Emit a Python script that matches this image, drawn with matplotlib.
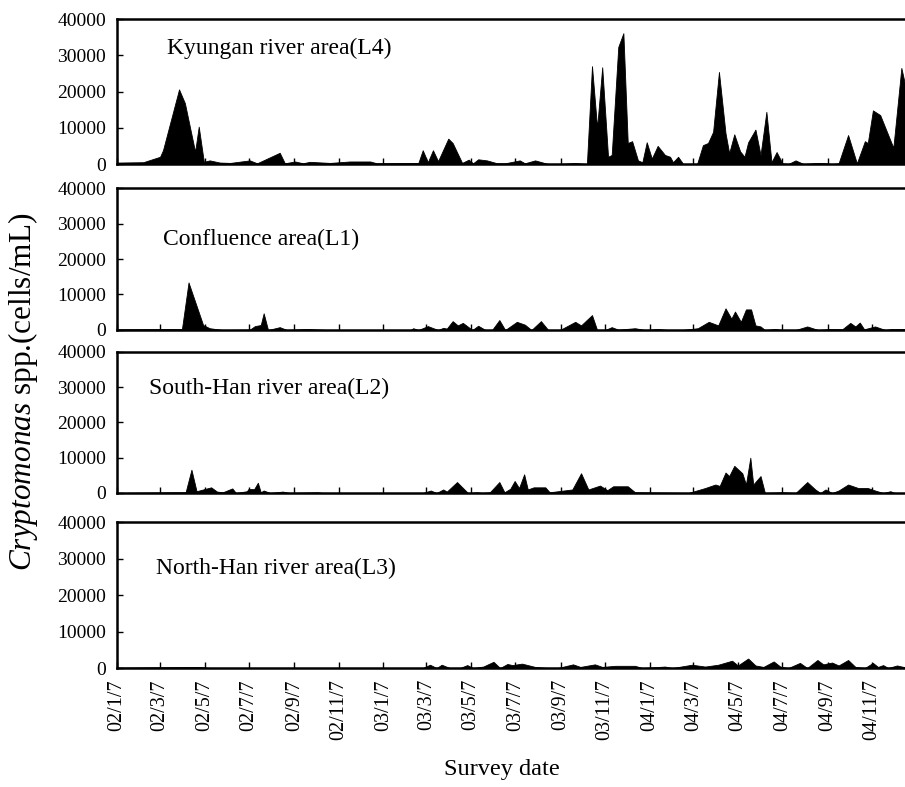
import pandas as pd
import matplotlib
matplotlib.use("Agg")
import matplotlib.pyplot as plt

# Kyungan river area (L4)
l4_dates = ["2002-01-07", "2002-02-12", "2002-03-07", "2002-03-11", "2002-04-02", "2002-04-10",
            "2002-04-24", "2002-04-29", "2002-05-06", "2002-05-14", "2002-05-28", "2002-06-11",
            "2002-07-08", "2002-07-18", "2002-08-18", "2002-08-25", "2002-09-08", "2002-09-19",
            "2002-09-28", "2002-10-26", "2002-11-22", "2002-12-20", "2002-12-29", "2003-02-13",
            "2003-02-24", "2003-03-02", "2003-03-09", "2003-03-16", "2003-03-23", "2003-04-06",
            "2003-04-12", "2003-04-25", "2003-05-04", "2003-05-10", "2003-05-17", "2003-05-29",
            "2003-06-12", "2003-06-23", "2003-07-13", "2003-07-20", "2003-08-03", "2003-08-21",
            "2003-09-06", "2003-09-27", "2003-10-11", "2003-10-13", "2003-10-20", "2003-10-27",
            "2003-11-03", "2003-11-11", "2003-11-16", "2003-11-25", "2003-12-02", "2003-12-08",
            "2003-12-14", "2003-12-22", "2003-12-28", "2004-01-03", "2004-01-10", "2004-01-18",
            "2004-01-28", "2004-02-04", "2004-02-08", "2004-02-15", "2004-02-22", "2004-03-12",
            "2004-03-20", "2004-03-27", "2004-04-03", "2004-04-11", "2004-04-20", "2004-04-25",
            "2004-05-02", "2004-05-10", "2004-05-16", "2004-05-21", "2004-05-31", "2004-06-07",
            "2004-06-15", "2004-06-22", "2004-06-29", "2004-07-07", "2004-07-15", "2004-07-25",
            "2004-08-05", "2004-08-24", "2004-09-04", "2004-09-13", "2004-09-22", "2004-10-05",
            "2004-10-17", "2004-10-28", "2004-11-01", "2004-11-08", "2004-11-18", "2004-12-06",
            "2004-12-17", "2004-12-22"]
l4_values = [400, 500, 2000, 3800, 20600, 16800,
             3400, 10300, 600, 1000, 400, 300,
             1000, 200, 3100, 200, 700, 200,
             600, 300, 700, 700, 200, 300,
             300, 3800, 500, 3800, 800, 7000,
             5800, 300, 1200, 200, 1300, 1000,
             200, 200, 1000, 200, 1000, 0,
             0, 300, 0, 0, 27000, 10000,
             26700, 2000, 2500, 32300, 36100, 5800,
             6300, 1000, 500, 6000, 1500, 5000,
             2500, 2000, 500, 2000, 0, 0,
             5200, 5800, 8900, 25400, 8500, 3000,
             8200, 3500, 2000, 6000, 9500, 2500,
             14400, 500, 3300, 200, 0, 1000,
             0, 300, 200, 0, 200, 8000,
             200, 6300, 5800, 14800, 13500, 4500,
             26500, 22000]

# Confluence area (L1)
l1_dates = ["2002-01-07", "2002-04-06", "2002-04-15", "2002-05-05", "2002-05-14", "2002-06-01",
            "2002-07-08", "2002-07-15", "2002-07-23", "2002-07-27", "2002-08-02", "2002-08-18",
            "2002-08-28", "2002-09-24", "2002-10-22", "2003-02-13", "2003-02-17", "2003-02-24",
            "2003-03-09", "2003-03-23", "2003-03-30", "2003-04-04", "2003-04-12", "2003-04-19",
            "2003-04-26", "2003-05-09", "2003-05-17", "2003-05-27", "2003-06-05", "2003-06-15",
            "2003-06-23", "2003-07-09", "2003-07-20", "2003-07-29", "2003-08-11", "2003-08-21",
            "2003-09-06", "2003-09-27", "2003-10-05", "2003-10-20", "2003-10-27", "2003-11-07",
            "2003-11-16", "2003-11-25", "2003-12-18", "2004-01-01", "2004-01-18", "2004-02-01",
            "2004-02-20", "2004-03-13", "2004-03-28", "2004-04-10", "2004-04-20", "2004-04-28",
            "2004-05-03", "2004-05-11", "2004-05-18", "2004-05-25", "2004-05-31", "2004-06-07",
            "2004-06-13", "2004-06-27", "2004-07-07", "2004-07-25", "2004-08-10", "2004-08-25",
            "2004-09-13", "2004-09-27", "2004-10-08", "2004-10-15", "2004-10-21", "2004-10-27",
            "2004-11-11", "2004-11-25", "2004-12-04", "2004-12-22"]
l1_values = [200, 300, 13400, 1400, 500, 0,
             100, 1100, 1400, 4700, 0, 800,
             0, 300, 0, 0, 500, 0,
             1100, 0, 600, 400, 2500, 1300,
             2000, 0, 1200, 0, 0, 2800,
             0, 2300, 1500, 0, 2500, 0,
             0, 2300, 1300, 4200, 0, 0,
             800, 100, 500, 0, 300, 0,
             0, 500, 2300, 1300, 6100, 3200,
             5200, 2300, 5800, 5800, 1300, 1000,
             0, 300, 0, 0, 1000, 0,
             300, 200, 2000, 1000, 2100, 200,
             1000, 0, 300, 300]

# South-Han river area (L2)
l2_dates = ["2002-01-07", "2002-03-27", "2002-04-11", "2002-04-19", "2002-04-26", "2002-05-05",
            "2002-05-16", "2002-05-24", "2002-06-01", "2002-06-14", "2002-06-19", "2002-07-04",
            "2002-07-06", "2002-07-14", "2002-07-19", "2002-07-23", "2002-07-27", "2002-08-05",
            "2002-08-22", "2002-09-01", "2002-10-09", "2002-10-16", "2003-03-02", "2003-03-13",
            "2003-03-21", "2003-03-30", "2003-04-04", "2003-04-18", "2003-05-03", "2003-05-16",
            "2003-05-22", "2003-06-02", "2003-06-15", "2003-06-22", "2003-06-30", "2003-07-06",
            "2003-07-12", "2003-07-19", "2003-07-24", "2003-08-01", "2003-08-17", "2003-08-23",
            "2003-09-23", "2003-10-05", "2003-10-15", "2003-10-31", "2003-11-10", "2003-11-18",
            "2003-12-08", "2003-12-18", "2004-02-29", "2004-03-23", "2004-04-06", "2004-04-12",
            "2004-04-20", "2004-04-25", "2004-05-02", "2004-05-13", "2004-05-18", "2004-05-24",
            "2004-05-28", "2004-06-07", "2004-06-13", "2004-07-07", "2004-07-25", "2004-08-10",
            "2004-08-21", "2004-08-28", "2004-09-04", "2004-09-13", "2004-09-22", "2004-10-05",
            "2004-10-19", "2004-11-01", "2004-11-11", "2004-11-22", "2004-12-02", "2004-12-08",
            "2004-12-22"]
l2_values = [0, 200, 200, 6600, 500, 1000,
             1600, 400, 200, 1300, 0, 500,
             1100, 1100, 2900, 200, 700, 0,
             400, 0, 200, 0, 0, 700,
             0, 1000, 400, 3100, 0, 200,
             0, 200, 3100, 200, 1200, 3400,
             1400, 5300, 1000, 1600, 1600, 200,
             1000, 5600, 1000, 2100, 800, 1900,
             1900, 200, 0, 1400, 2400, 2000,
             5800, 4800, 7700, 5600, 2400, 10000,
             2400, 4800, 0, 200, 0, 3100,
             1000, 0, 1000, 0, 700, 2400,
             1400, 1400, 700, 0, 500, 0,
             0]

# North-Han river area (L3)
l3_dates = ["2002-01-07", "2002-04-30", "2002-05-14", "2003-03-02", "2003-03-12", "2003-03-21",
            "2003-03-28", "2003-04-08", "2003-04-22", "2003-05-02", "2003-05-10", "2003-05-24",
            "2003-06-07", "2003-06-16", "2003-06-26", "2003-07-03", "2003-07-16", "2003-08-03",
            "2003-08-21", "2003-09-03", "2003-09-24", "2003-10-04", "2003-10-24", "2003-11-03",
            "2003-11-21", "2003-12-18", "2003-12-28", "2004-01-28", "2004-02-07", "2004-03-05",
            "2004-03-23", "2004-04-10", "2004-04-29", "2004-05-07", "2004-05-21", "2004-05-31",
            "2004-06-11", "2004-06-25", "2004-07-04", "2004-07-15", "2004-07-31", "2004-08-10",
            "2004-08-24", "2004-09-01", "2004-09-13", "2004-09-22", "2004-10-05", "2004-10-15",
            "2004-10-28", "2004-11-08", "2004-11-15", "2004-11-22", "2004-11-29", "2004-12-11",
            "2004-12-22"]
l3_values = [100, 300, 0, 0, 900, 0,
             900, 0, 0, 800, 0, 400,
             1700, 0, 1100, 800, 1200, 300,
             0, 0, 1000, 300, 1000, 300,
             600, 600, 0, 400, 0, 900,
             400, 900, 2000, 700, 2600, 700,
             300, 1800, 400, 0, 1400, 0,
             2200, 1000, 1500, 700, 2200, 300,
             0, 1400, 300, 800, 0, 700,
             200]

panel_names = ["Kyungan river area(L4)", "Confluence area(L1)",
               "South-Han river area(L2)", "North-Han river area(L3)"]
y_ticks = [0, 10000, 20000, 30000, 40000]
x_tick_dates = ["2002-01-07", "2002-03-07", "2002-05-07", "2002-07-07", "2002-09-07",
                "2002-11-07", "2003-01-07", "2003-03-07", "2003-05-07", "2003-07-07",
                "2003-09-07", "2003-11-07", "2004-01-07", "2004-03-07", "2004-05-07",
                "2004-07-07", "2004-09-07", "2004-11-07"]
x_tick_labels = ["02/1/7", "02/3/7", "02/5/7", "02/7/7", "02/9/7", "02/11/7",
                 "03/1/7", "03/3/7", "03/5/7", "03/7/7", "03/9/7", "03/11/7",
                 "04/1/7", "04/3/7", "04/5/7", "04/7/7", "04/9/7", "04/11/7"]

plt.rcParams["font.family"] = ["Liberation Serif", "DejaVu Serif"]
plt.rcParams["mathtext.fontset"] = "custom"
plt.rcParams["mathtext.rm"] = "Liberation Serif"
plt.rcParams["mathtext.it"] = "Liberation Serif:italic"

series = [(l4_dates, l4_values), (l1_dates, l1_values),
          (l2_dates, l2_values), (l3_dates, l3_values)]
# panel boxes in figure fractions [left, bottom, width, height]
boxes = [[0.1293, 0.7916, 0.8707, 0.1842],
         [0.1293, 0.5807, 0.8707, 0.1804],
         [0.1293, 0.3736, 0.8707, 0.1792],
         [0.1293, 0.1512, 0.8707, 0.1855]]
title_pos = [(0.063, 0.80), (0.058, 0.64), (0.041, 0.74), (0.05, 0.68)]

fig = plt.figure(figsize=(9.05, 7.87), dpi=100)
xmin = pd.Timestamp("2002-01-07")
xmax = pd.Timestamp("2004-12-22")
ticks = pd.to_datetime(x_tick_dates)

for i, (dates, vals) in enumerate(series):
    ax = fig.add_axes(boxes[i])
    d = pd.to_datetime(dates)
    ax.fill_between(d, 0, vals, color="black", linewidth=0.6, edgecolor="black")
    ax.set_xlim(xmin, xmax)
    ax.set_ylim(0, 40000)
    ax.set_yticks(y_ticks)
    ax.set_yticklabels([str(v) for v in y_ticks], fontsize=14)
    ax.set_xticks(ticks)
    if i == 3:
        ax.set_xticklabels(x_tick_labels, rotation=90, fontsize=14.5)
    else:
        ax.set_xticklabels([])
    ax.tick_params(axis="both", direction="in", length=4, width=1)
    ax.tick_params(axis="x", pad=8)
    ax.tick_params(axis="y", pad=8)
    ax.spines["right"].set_visible(False)
    for s in ["top", "left", "bottom"]:
        ax.spines[s].set_linewidth(1.8)
    ax.text(title_pos[i][0], title_pos[i][1], panel_names[i], transform=ax.transAxes,
            fontsize=17, va="center", ha="left")

fig.text(0.025, 0.502, r"$\mathit{Cryptomonas}$ spp.(cells/mL)", rotation=90,
         fontsize=22.5, va="center", ha="center")
fig.text(0.555, 0.022, "Survey date", fontsize=17.5, ha="center", va="center")

fig.savefig("out.png", dpi=100)
